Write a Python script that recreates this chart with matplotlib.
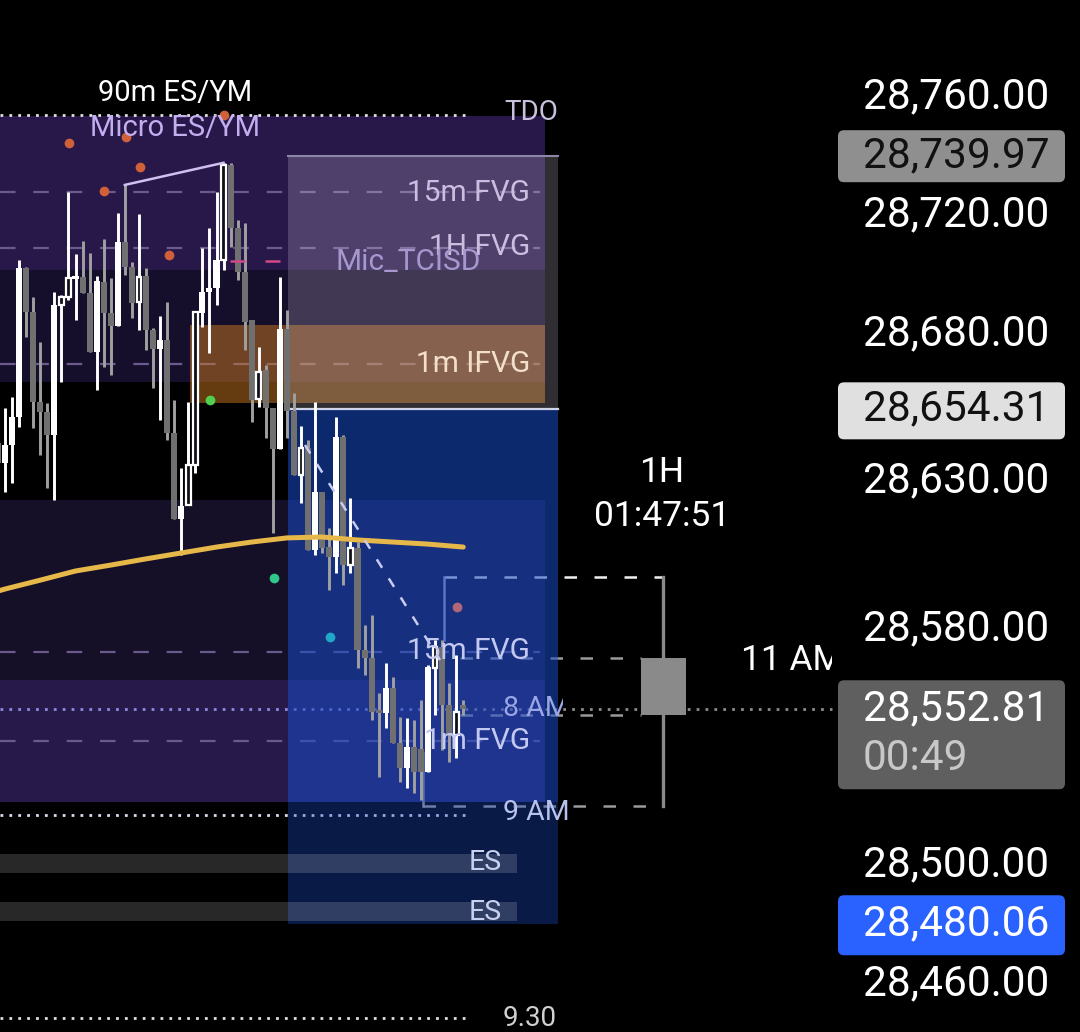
import matplotlib.pyplot as plt
from matplotlib.patches import Rectangle, FancyBboxPatch
from matplotlib.transforms import Affine2D

plt.rcParams['font.family'] = ['Roboto', 'DejaVu Sans']

# ---------- datos de las velas (1m) ----------
first_bar = -1
opens = [28643.00, 28636.25, 28642.25, 28651.75, 28702.25, 28687.25, 28656.75, 28653.50, 28645.50, 28689.50,
         28692.25, 28698.50, 28699.00, 28693.75, 28673.75, 28697.50, 28687.00, 28682.50, 28711.00, 28702.50,
         28690.75, 28699.50, 28681.25, 28674.75, 28677.75, 28646.25, 28617.25, 28622.00, 28635.50, 28687.00,
         28694.00, 28695.25, 28704.75, 28737.00, 28715.75, 28700.75, 28684.50, 28657.75, 28667.50, 28654.75,
         28641.00, 28681.50, 28653.75, 28632.00, 28641.25, 28606.75, 28626.25, 28607.75, 28604.25, 28645.00,
         28601.75, 28607.50, 28572.75, 28570.25, 28552.50, 28551.50, 28560.00, 28541.50, 28533.00, 28540.00,
         28539.25, 28531.50, 28566.75, 28574.00, 28554.25, 28544.00, 28554.25]
highs = [28647.25, 28654.75, 28658.50, 28704.75, 28702.50, 28692.25, 28677.00, 28656.50, 28694.00, 28693.00,
         28727.75, 28707.00, 28711.25, 28707.25, 28699.50, 28712.00, 28698.75, 28720.75, 28730.25, 28704.25,
         28720.50, 28702.25, 28681.75, 28686.00, 28690.75, 28657.50, 28634.50, 28656.75, 28687.25, 28709.00,
         28715.75, 28727.75, 28737.75, 28737.75, 28718.50, 28717.25, 28684.50, 28675.50, 28669.25, 28654.75,
         28699.00, 28688.00, 28659.75, 28648.75, 28644.00, 28656.75, 28626.25, 28614.25, 28651.75, 28645.50,
         28624.25, 28609.50, 28581.25, 28584.75, 28558.25, 28568.50, 28563.75, 28550.25, 28549.75, 28549.25,
         28556.00, 28567.75, 28576.25, 28576.25, 28561.75, 28571.25, 28556.00]
lows = [28629.50, 28626.25, 28629.50, 28648.25, 28678.75, 28648.00, 28638.75, 28627.75, 28623.50, 28663.50,
        28691.25, 28684.50, 28693.75, 28673.75, 28660.75, 28668.75, 28666.00, 28682.50, 28699.75, 28685.25,
        28681.25, 28674.50, 28661.50, 28650.75, 28644.00, 28617.25, 28605.00, 28622.00, 28632.75, 28682.25,
        28673.25, 28689.50, 28701.50, 28709.25, 28698.00, 28674.50, 28650.00, 28655.00, 28644.50, 28612.50,
        28641.00, 28644.50, 28632.00, 28622.50, 28606.75, 28605.00, 28605.75, 28593.25, 28599.00, 28594.75,
        28599.00, 28566.75, 28564.50, 28549.25, 28530.00, 28546.50, 28541.50, 28528.25, 28526.25, 28524.50,
        28522.00, 28531.50, 28550.75, 28539.00, 28535.00, 28536.25, 28551.00]
closes = [28636.25, 28642.25, 28651.75, 28702.25, 28687.25, 28656.75, 28653.50, 28645.50, 28689.50, 28692.25,
          28698.75, 28699.00, 28693.75, 28673.75, 28697.75, 28687.00, 28682.50, 28711.00, 28702.50, 28690.25,
          28699.00, 28681.25, 28674.75, 28677.75, 28646.25, 28617.25, 28621.50, 28635.50, 28687.25, 28694.00,
          28695.25, 28704.75, 28737.00, 28715.75, 28700.75, 28683.75, 28657.50, 28667.00, 28654.75, 28641.00,
          28681.50, 28653.75, 28632.00, 28641.25, 28606.75, 28626.25, 28607.50, 28604.25, 28645.00, 28601.75,
          28607.50, 28572.75, 28570.25, 28552.00, 28551.50, 28560.00, 28541.50, 28533.00, 28540.00, 28531.50,
          28531.50, 28567.00, 28574.00, 28554.25, 28544.00, 28552.00, 28552.81]
hollow_bars = [8, 9, 19, 26, 27, 31, 36, 42, 49, 61, 64]

# media movil (amarilla)
ma_bars = [-1, 0, 5, 10, 15, 20, 25, 30, 35, 40, 45, 50, 55, 60, 65]
ma_vals = [28592.8, 28593.5, 28596.5, 28599.6, 28601.6, 28603.7, 28605.7, 28607.7,
           28609.4, 28610.8, 28611.1, 28610.1, 28609.4, 28608.7, 28607.7]

# puntos (swings)
orange_bars = [9.1, 14.0, 17.2, 19.2, 23.3, 31.1]
orange_prices = [28744.4, 28728.2, 28746.5, 28736.3, 28706.5, 28753.9]
green_bars = [29.1]
green_prices = [28657.5]
teal_bars = [38.2]
teal_prices = [28597.2]
cyan_bars = [46.1]
cyan_prices = [28577.3]
pink_bars = [64.1]
pink_prices = [28587.4]

# niveles
tdo_level = 28753.9
am8_level = 28552.9
am9_level = 28517.0
t930_level = 28448.3
fvg_dash_levels = [28727.9, 28708.9, 28669.6, 28572.2, 28542.1]
tcisd_level = 28704.5
purple_bands = [(28701.5, 28753.6, '#271849'), (28663.6, 28701.5, '#160f2b'),
                (28562.7, 28623.6, '#150f27'), (28521.4, 28562.7, '#271a4b')]
ifvg_zone = (28656.45, 28682.85)
fvg_gray_zone = (28654.31, 28739.97)
blue_zone = (28480.06, 28654.31)
blue_split = 28521.4
es_bars = [(28497.4, 28503.8), (28481.2, 28487.6)]

# vela de 1H proyectada
htf_bar = 93.4
htf_open, htf_high, htf_low, htf_close = 28570.2, 28597.6, 28520.1, 28551.0

price_ticks = [28760, 28720, 28680, 28630, 28580, 28500, 28460]
tag_prices = [28739.97, 28654.31, 28552.81, 28480.06]


# ---------- escala pixel -> datos ----------
def bx(px):
    return (px - 5) / 7.05


def py(px):
    return 28792.83 - px * 0.33841


def ypx(price):
    return (28792.83 - price) / 0.33841


fig = plt.figure(figsize=(10.8, 10.32), dpi=100, facecolor='black')
ax = fig.add_axes([0, 0, 1, 1])
ax.set_facecolor('black')
ax.set_xlim(bx(0), bx(1080))
ax.set_ylim(py(1032), py(0))
for s in ax.spines.values():
    s.set_visible(False)
ax.set_xticks([])
ax.set_yticks([])

# transformacion en pixeles (origen arriba a la izquierda)
pxT = Affine2D().scale(1 / 1080, -1 / 1032).translate(0, 1) + fig.transFigure

x_left = bx(0)

# bandas moradas
for lo, hi, c in purple_bands:
    ax.add_patch(Rectangle((x_left, lo), bx(545) - x_left, hi - lo, fc=c, ec='none', zorder=0))

# lineas discontinuas FVG
for lv in fvg_dash_levels:
    ax.plot([x_left, bx(540)], [lv, lv], color='#6a5a8e', lw=1.6, ls=(0, (7, 8)), zorder=1)

# lineas de la vela 1H
ax.plot([bx(444), htf_bar], [htf_high, htf_high], color='#f0f0f0', lw=1.8, ls=(0, (5, 7)), zorder=1)
ax.plot([bx(460), bx(641)], [htf_open, htf_open], color='#9a9a9a', lw=1.8, ls=(0, (5, 7)), zorder=1)
ax.plot([bx(460), bx(641)], [htf_close, htf_close], color='#9a9a9a', lw=1.8, ls=(0, (5, 7)), zorder=1)
ax.plot([bx(423), htf_bar], [htf_low, htf_low], color='#9a9a9a', lw=1.8, ls=(0, (5, 7)), zorder=1)
ax.plot([bx(444), bx(444)], [htf_high, highs[62 - first_bar]], color='#a8a8c8', lw=1.8, zorder=1)
ax.plot([bx(423), bx(423)], [htf_low, 28538.0], color='#9a9a9a', lw=1.8, zorder=1)

# lineas punteadas de sesion
ax.plot([x_left, bx(465)], [am8_level, am8_level], color='#8c8ce0', lw=2, ls=(0, (1, 2.2)), zorder=1)
ax.plot([bx(465), bx(832)], [am8_level, am8_level], color='#8c8c8c', lw=2, ls=(0, (1, 2.2)), zorder=1)
ax.plot([x_left, bx(465)], [am9_level, am9_level], color='#d8dcf0', lw=2, ls=(0, (1, 2.2)), zorder=1)
ax.plot([x_left, bx(465)], [t930_level, t930_level], color='#e0e0e0', lw=2, ls=(0, (1, 2.2)), zorder=1)

# zona IFVG naranja
ax.add_patch(Rectangle((bx(190), ifvg_zone[0]), bx(545) - bx(190), ifvg_zone[1] - ifvg_zone[0],
                       fc='#c8781e', alpha=0.5, ec='none', zorder=2))
# caja gris FVG
ax.add_patch(Rectangle((bx(288), fvg_gray_zone[0]), bx(558) - bx(288), fvg_gray_zone[1] - fvg_gray_zone[0],
                       fc='#dcd2e6', alpha=0.22, ec='none', zorder=3))
ax.plot([bx(288), bx(558)], [fvg_gray_zone[1]] * 2, color='#8e86a8', lw=1.5, zorder=3)
# caja azul
ax.add_patch(Rectangle((bx(288), blue_split), bx(558) - bx(288), blue_zone[1] - blue_split,
                       fc='#194bc8', alpha=0.55, ec='none', zorder=4))
ax.add_patch(Rectangle((bx(288), blue_zone[0]), bx(558) - bx(288), blue_split - blue_zone[0],
                       fc='#194bc8', alpha=0.35, ec='none', zorder=4))
ax.plot([bx(288), bx(558)], [blue_zone[1]] * 2, color='#d0d4e8', lw=1.6, zorder=4.5)

# barras ES
for lo, hi in es_bars:
    ax.add_patch(Rectangle((x_left, lo), bx(517) - x_left, hi - lo, fc='white', alpha=0.16, ec='none', zorder=5))

# vela HTF
ax.plot([htf_bar - 0.1, htf_bar - 0.1], [htf_low, htf_high], color='#8a8a8a', lw=2.4, zorder=5)
ax.add_patch(Rectangle((htf_bar - 3.2, min(htf_open, htf_close)), 6.4, abs(htf_open - htf_close),
                       fc='#8a8a8a', ec='none', zorder=5))

# velas
w = 0.86
for k in range(len(opens)):
    i = first_bar + k
    o, h, l, c = opens[k], highs[k], lows[k], closes[k]
    bull = c >= o
    col = 'white' if bull else '#707070'
    wick = 'white' if bull else '#a0a0a0'
    ax.plot([i, i], [l, h], color=wick, lw=2.1, zorder=6, solid_capstyle='butt')
    lo, hgt = min(o, c), max(abs(c - o), 0.8)
    if i in hollow_bars:
        ax.add_patch(Rectangle((i - w / 2 + 0.1, lo), w - 0.2, hgt, fc='#101018', ec='white', lw=1.6, zorder=6.5))
    else:
        ax.add_patch(Rectangle((i - w / 2, lo), w, hgt, fc=col, ec='none', zorder=6.5))

# media movil
ax.plot(ma_bars, ma_vals, color='#e6b84a', lw=3.6, solid_capstyle='round', zorder=7)

# linea de maximos
ax.plot([17, 31], [highs[17 - first_bar], highs[31 - first_bar]], color='#d0c0f0', lw=1.8, zorder=7)
# diagonal discontinua
ax.plot([bx(305), bx(440)], [py(445), py(660)], color='#c8ccf0', lw=1.8, ls=(0, (4, 5)), zorder=7)
# TCISD rosa
ax.plot([bx(230), bx(300)], [tcisd_level] * 2, color='#d04888', lw=1.8, ls=(0, (6, 8)), zorder=7)

# TDO punteada
ax.plot([x_left, bx(465)], [tdo_level, tdo_level], color='#e0e0e0', lw=2, ls=(0, (1, 2.2)), zorder=7)

# puntos
ax.plot(orange_bars, orange_prices, 'o', color='#d0603a', ms=7, mec='none', zorder=8)
ax.plot(green_bars, green_prices, 'o', color='#50d050', ms=7, mec='none', zorder=8)
ax.plot(teal_bars, teal_prices, 'o', color='#30c88a', ms=7, mec='none', zorder=8)
ax.plot(cyan_bars, cyan_prices, 'o', color='#20a8c8', ms=7, mec='none', zorder=8)
ax.plot(pink_bars, pink_prices, 'o', color='#b06878', ms=7, mec='none', zorder=8)


# ---------- textos ----------
def txt(x, y, s, color, fs=20.5, ha='left', clip_x=None):
    t = fig.text(x, y, s, color=color, fontsize=fs, ha=ha, va='center', transform=pxT, zorder=10)
    if clip_x is not None:
        t.set_clip_on(True)
        t.set_clip_path(Rectangle((0, 0), clip_x, 1032, transform=pxT))
    return t


txt(175, 93, '90m ES/YM', 'white', fs=21, ha='center')
txt(175, 128, 'Micro ES/YM', '#c4aef0', fs=21, ha='center')
txt(504, 113, 'TDO', '#c8c0dc', fs=20)
txt(530, 193, '15m FVG', '#cbbde0', fs=21.5, ha='right')
txt(530, 247, '1H FVG', '#cbbde0', fs=21.5, ha='right')
txt(335, 262, 'Mic_TCISD', '#a797cf', fs=21.5)
txt(530, 364, '1m IFVG', '#f2dfcc', fs=21.5, ha='right')
txt(530, 651, '15m FVG', '#c2c8f0', fs=21.5, ha='right')
txt(530, 741, '1m FVG', '#c2c8f0', fs=21.5, ha='right')
txt(503, 708, '8 AM', '#9aa6e6', clip_x=563)
txt(503, 813, '9 AM', '#b8c2ee')
txt(485, 863, 'ES', '#c8d0f0', ha='center')
txt(485, 912, 'ES', '#c8d0f0', ha='center')
txt(503, 1018, '9.30', '#d0d0d0', fs=20)
txt(662, 473, '1H', 'white', fs=25.5, ha='center')
txt(662, 517, '01:47:51', 'white', fs=25.5, ha='center')
txt(741, 660, '11 AM', 'white', fs=25.5, clip_x=832)

# ---------- escala de precios ----------
for p in price_ticks:
    txt(863, ypx(p), f'{p:,.2f}', 'white', fs=30.5)

tag_styles = [('#8f8f8f', '#111111', 26, 26), ('#e0e0e0', '#111111', 27, 30),
              ('#5f5f5f', 'white', 29, 80), ('#2962ff', 'white', 29, 31)]
for p, (fc, tc, up, down) in zip(tag_prices, tag_styles):
    yc = ypx(p)
    fig.patches.append(FancyBboxPatch((838, yc - up), 227, up + down,
                                      boxstyle='round,pad=0,rounding_size=6',
                                      fc=fc, ec='none', transform=pxT, figure=fig, zorder=9))
    txt(863, yc, f'{p:,.2f}', tc, fs=30.5)
txt(863, ypx(tag_prices[2]) + 49, '00:49', '#c8c8c8', fs=30.5)

fig.savefig('out.png', dpi=100, facecolor='black')
